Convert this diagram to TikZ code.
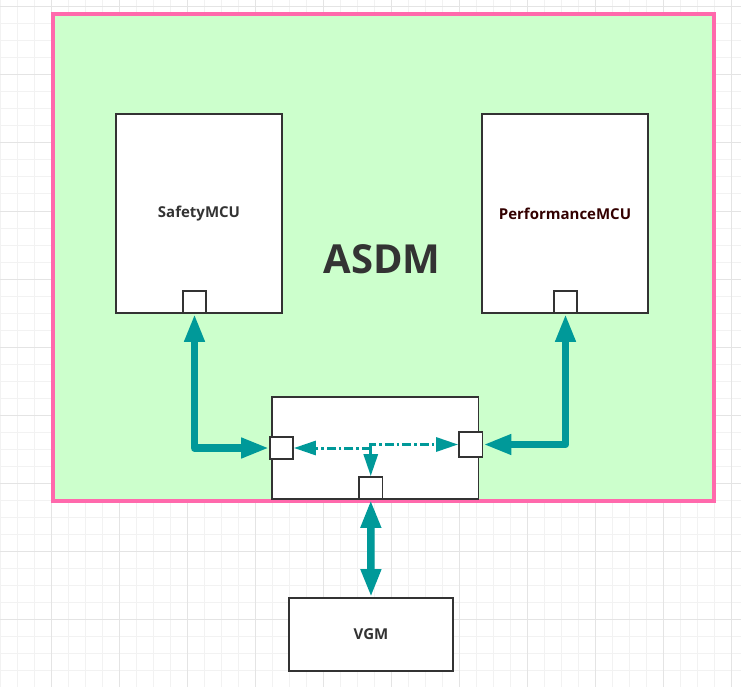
\documentclass[tikz,border=0pt]{standalone}
\usepackage{fontspec}
\setmainfont{Open Sans}
\usetikzlibrary{arrows.meta}
\definecolor{gridminor}{HTML}{F2F2F2}
\definecolor{gridmajor}{HTML}{E4E4E4}
\definecolor{asdmfill}{HTML}{CCFFCC}
\definecolor{asdmline}{HTML}{FF69AC}
\definecolor{boxline}{HTML}{333333}
\definecolor{teal}{HTML}{009999}
\definecolor{txt}{HTML}{333333}
\definecolor{perftxt}{HTML}{330000}
\tikzset{
  box/.style={draw=boxline, line width=1.8pt, fill=white, inner sep=0pt},
  port/.style={box, minimum width=23pt, minimum height=22pt},
  lbl/.style={font=\fontsize{15}{18}\selectfont\bfseries, text=txt},
  bus/.style={draw=teal, line width=7.5pt, line join=round,
    {Triangle[length=28pt,width=19pt]}-{Triangle[length=28pt,width=19pt]}},
  link/.style={draw=teal, line width=3pt,
    dash pattern=on 9pt off 3pt on 2.5pt off 3pt,
    -{Triangle[length=22pt,width=14pt]}}
}
\begin{document}
\begin{tikzpicture}[x=1pt,y=-1pt]
\useasboundingbox (0,0) rectangle (741,687);
\fill[white] (0,0) rectangle (741,687);
% grid
\foreach \i in {0,17,...,741} \draw[gridminor, line width=1pt] (\i,0) -- (\i,687);
\foreach \j in {7,24,...,687} \draw[gridminor, line width=1pt] (0,\j) -- (741,\j);
\foreach \i in {51,119,...,741} \draw[gridmajor, line width=1pt] (\i,0) -- (\i,687);
\foreach \j in {7,75,...,687} \draw[gridmajor, line width=1pt] (0,\j) -- (741,\j);
% container
\node[draw=asdmline, line width=3.5pt, fill=asdmfill, minimum width=661pt, minimum height=487pt, inner sep=0pt] (asdm) at (383.5,257.5) {};
\node[font=\fontsize{40}{48}\selectfont\bfseries, text=txt] (title) at (382,259) {ASDM};
% MCUs
\node[box, minimum width=166pt, minimum height=199pt, lbl] (safety) at (199,213.5) {SafetyMCU};
\node[box, minimum width=166pt, minimum height=199pt, lbl, text=perftxt] (perf) at (565,213.5) {PerformanceMCU};
\node[port] (sport) at (194.5,302) {};
\node[port] (pport) at (565.5,302) {};
% switch
\node[box, minimum width=206.5pt, minimum height=102pt] (sw) at (375.25,448) {};
\node[port] (lport) at (281.5,448) {};
\node[port, minimum width=23.5pt, minimum height=24.5pt] (rport) at (470.75,444.5) {};
\node[port, minimum width=23.5pt] (bport) at (370.75,488) {};
% VGM
\node[box, minimum width=164pt, minimum height=73pt, lbl] (vgm) at (371,634.5) {VGM};
% thick buses
\draw[bus] (sport.south) |- (lport.west);
\draw[bus] (pport.south) |- (rport.east);
\draw[bus] (bport.south) -- (vgm.north);
% internal links
\coordinate (J) at (370.75,448);
\draw[link] (J) -- (lport.east);
\draw[link] (J) -- (bport.north);
\draw[link] (J) |- (rport.west);
\end{tikzpicture}
\end{document}
